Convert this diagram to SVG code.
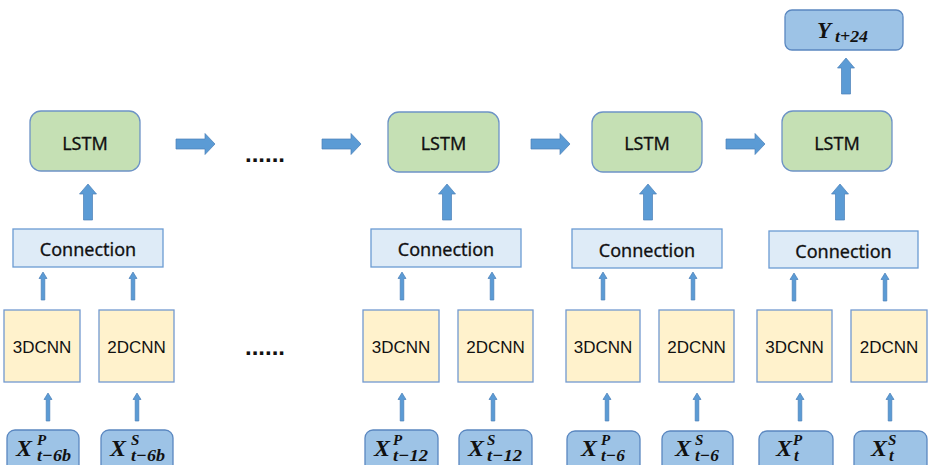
<svg xmlns="http://www.w3.org/2000/svg" xmlns:xlink="http://www.w3.org/1999/xlink" width="928" height="465" viewBox="0 0 928 465">
<defs>
<style>
.lstm{fill:#c5e0b4;stroke:#6d93c6;stroke-width:1.3}
.conn{fill:#deebf7;stroke:#6a9bd3;stroke-width:1.3}
.cnn{fill:#fff2cc;stroke:#7299d0;stroke-width:1.3}
.inp{fill:#9dc3e6;stroke:#5a87c0;stroke-width:1.3}
.arr{fill:#5b9bd5;stroke:#4a7fb8;stroke-width:0.7}
.t1{font-family:"Noto Sans","Liberation Sans",sans-serif;font-size:18px;fill:#111;text-anchor:middle;stroke:#111;stroke-width:0.3}
.t2{font-family:"Liberation Sans",Arial,sans-serif;font-size:17px;fill:#111;text-anchor:middle}
.m{font-family:"Liberation Serif","Times New Roman",serif;font-weight:bold;font-style:italic;fill:#111}
.dots{font-family:"Liberation Sans",Arial,sans-serif;font-size:24px;font-weight:bold;fill:#111}
</style>
<path id="upB" d="M0,0 L8.5,10 L4.5,10 L4.5,36 L-4.5,36 L-4.5,10 L-8.5,10 Z"/>
<path id="upS" d="M0,0 L4,6.5 L1.8,6.5 L1.8,28 L-1.8,28 L-1.8,6.5 L-4,6.5 Z"/>
<path id="rt" d="M0,-5 L29,-5 L29,-10.5 L39,0 L29,10.5 L29,5 L0,5 Z"/>
</defs>
<rect width="928" height="465" fill="#fff"/>

<g id="connectors" class="arr">
<use xlink:href="#rt" x="176" y="144"/>
<use xlink:href="#rt" x="322" y="144"/>
<use xlink:href="#rt" x="531" y="144"/>
<use xlink:href="#rt" x="726" y="144"/>
<use xlink:href="#upB" x="88" y="184"/>
<use xlink:href="#upB" x="447" y="184"/>
<use xlink:href="#upB" x="648" y="184"/>
<use xlink:href="#upB" x="840" y="184"/>
<use xlink:href="#upB" x="846" y="58"/>
<use xlink:href="#upS" x="43" y="272"/>
<use xlink:href="#upS" x="133" y="272"/>
<use xlink:href="#upS" x="402" y="272"/>
<use xlink:href="#upS" x="492" y="272"/>
<use xlink:href="#upS" x="603" y="272"/>
<use xlink:href="#upS" x="693" y="272"/>
<use xlink:href="#upS" x="794" y="273"/>
<use xlink:href="#upS" x="885" y="273"/>
<use xlink:href="#upS" x="48" y="393"/>
<use xlink:href="#upS" x="137" y="393"/>
<use xlink:href="#upS" x="402" y="393"/>
<use xlink:href="#upS" x="493" y="393"/>
<use xlink:href="#upS" x="607" y="393"/>
<use xlink:href="#upS" x="697" y="393"/>
<use xlink:href="#upS" x="800" y="393"/>
<use xlink:href="#upS" x="890" y="393"/>
</g>

<g id="dots1"><text class="dots" x="245" y="162">......</text></g>
<g id="dots2"><text class="dots" x="245" y="355">......</text></g>

<!-- Column A -->
<g id="lstm1"><rect class="lstm" x="30" y="111" width="110" height="60" rx="11"/><text class="t1" x="85" y="149.5">LSTM</text></g>
<g id="conn1"><rect class="conn" x="13" y="229" width="150" height="38"/><text class="t1" x="88" y="256">Connection</text></g>
<g id="cnn3d1"><rect class="cnn" x="4" y="310" width="76" height="72"/><text class="t2" x="42" y="353">3DCNN</text></g>
<g id="cnn2d1"><rect class="cnn" x="99" y="310" width="75" height="72"/><text class="t2" x="136.5" y="353">2DCNN</text></g>
<g id="inP1"><rect class="inp" x="7" y="430" width="72" height="45" rx="8"/>
<text class="m" x="16" y="456" font-size="24">X</text><text class="m" x="37" y="445" font-size="15">P</text><text class="m" x="37" y="461" font-size="17" textLength="34" lengthAdjust="spacingAndGlyphs">t−6b</text></g>
<g id="inS1"><rect class="inp" x="101" y="430" width="72" height="45" rx="8"/>
<text class="m" x="110" y="456" font-size="24">X</text><text class="m" x="131" y="445" font-size="15">S</text><text class="m" x="131" y="461" font-size="17" textLength="34" lengthAdjust="spacingAndGlyphs">t−6b</text></g>

<!-- Column B -->
<g id="lstm2"><rect class="lstm" x="388" y="112" width="111" height="60" rx="11"/><text class="t1" x="443.5" y="150">LSTM</text></g>
<g id="conn2"><rect class="conn" x="371" y="229" width="150" height="38"/><text class="t1" x="446" y="256">Connection</text></g>
<g id="cnn3d2"><rect class="cnn" x="363" y="310" width="76" height="72"/><text class="t2" x="401" y="353">3DCNN</text></g>
<g id="cnn2d2"><rect class="cnn" x="458" y="310" width="75" height="72"/><text class="t2" x="495.5" y="353">2DCNN</text></g>
<g id="inP2"><rect class="inp" x="365" y="430" width="73" height="45" rx="8"/>
<text class="m" x="374" y="456" font-size="24">X</text><text class="m" x="393" y="445" font-size="15">P</text><text class="m" x="393" y="461" font-size="17" textLength="35" lengthAdjust="spacingAndGlyphs">t−12</text></g>
<g id="inS2"><rect class="inp" x="459" y="430" width="73" height="45" rx="8"/>
<text class="m" x="468" y="456" font-size="24">X</text><text class="m" x="487" y="445" font-size="15">S</text><text class="m" x="487" y="461" font-size="17" textLength="35" lengthAdjust="spacingAndGlyphs">t−12</text></g>

<!-- Column C -->
<g id="lstm3"><rect class="lstm" x="592" y="112" width="110" height="60" rx="11"/><text class="t1" x="647" y="150">LSTM</text></g>
<g id="conn3"><rect class="conn" x="572" y="229" width="150" height="39"/><text class="t1" x="647" y="256.5">Connection</text></g>
<g id="cnn3d3"><rect class="cnn" x="566" y="310" width="74" height="72"/><text class="t2" x="603" y="353">3DCNN</text></g>
<g id="cnn2d3"><rect class="cnn" x="659" y="310" width="75" height="72"/><text class="t2" x="696.5" y="353">2DCNN</text></g>
<g id="inP3"><rect class="inp" x="567" y="431" width="73" height="45" rx="8"/>
<text class="m" x="581" y="456" font-size="24">X</text><text class="m" x="601" y="445" font-size="15">P</text><text class="m" x="601" y="461" font-size="17" textLength="24" lengthAdjust="spacingAndGlyphs">t−6</text></g>
<g id="inS3"><rect class="inp" x="662" y="431" width="71" height="45" rx="8"/>
<text class="m" x="675" y="456" font-size="24">X</text><text class="m" x="695" y="445" font-size="15">S</text><text class="m" x="695" y="461" font-size="17" textLength="24" lengthAdjust="spacingAndGlyphs">t−6</text></g>

<!-- Column D -->
<g id="lstm4"><rect class="lstm" x="782" y="111" width="110" height="60" rx="11"/><text class="t1" x="837" y="149.5">LSTM</text></g>
<g id="conn4"><rect class="conn" x="769" y="231" width="149" height="37"/><text class="t1" x="843.5" y="257.5">Connection</text></g>
<g id="cnn3d4"><rect class="cnn" x="757" y="310" width="75" height="72"/><text class="t2" x="794.5" y="353">3DCNN</text></g>
<g id="cnn2d4"><rect class="cnn" x="851" y="310" width="76" height="72"/><text class="t2" x="889" y="353">2DCNN</text></g>
<g id="inP4"><rect class="inp" x="759" y="431" width="74" height="45" rx="8"/>
<text class="m" x="776" y="456" font-size="24">X</text><text class="m" x="793" y="445" font-size="15">P</text><text class="m" x="794" y="461" font-size="17">t</text></g>
<g id="inS4"><rect class="inp" x="854" y="431" width="73" height="45" rx="8"/>
<text class="m" x="871" y="456" font-size="24">X</text><text class="m" x="888" y="445" font-size="15">S</text><text class="m" x="889" y="461" font-size="17">t</text></g>

<g id="output"><rect class="inp" x="785" y="10" width="118" height="40" rx="7"/>
<text class="m" x="817" y="38" font-size="23">Y</text><text class="m" x="835" y="42" font-size="17" textLength="33" lengthAdjust="spacingAndGlyphs">t+24</text></g>
</svg>
